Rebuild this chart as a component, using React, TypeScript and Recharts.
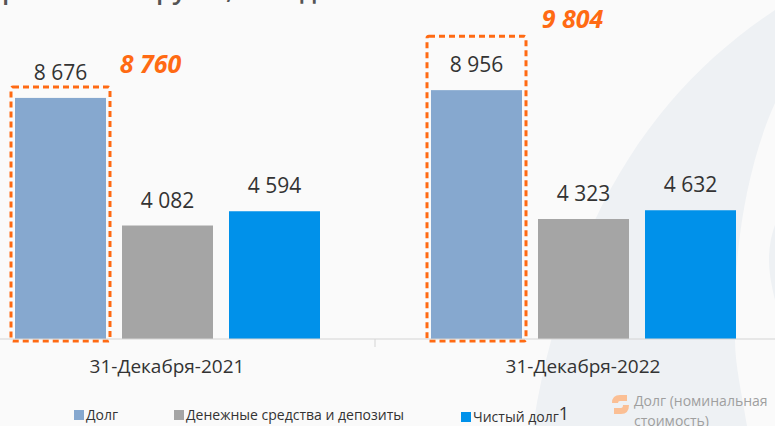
import { BarChart, Bar, XAxis, YAxis, LabelList, Legend } from 'recharts';

const categories = ['31-Декабря-2021', '31-Декабря-2022'];
const debt = [8676, 8956];
const cash = [4082, 4323];
const netDebt = [4594, 4632];
const nominalDebt = [8760, 9804];

const chartData = categories.map((date, i) => ({
  date,
  debt: debt[i],
  cash: cash[i],
  netDebt: netDebt[i],
}));

const FONT = '"Open Sans", sans-serif';
const ORANGE = '#ff6a13';

// how far the dashed box and the nominal value sit from each debt bar
const boxRise = [11, 54];
const nominalShift = [
  { dx: 90, dy: -35 },
  { dx: 96, dy: -72 },
];

// x of each legend entry, in page pixels
const legendX = [74, 174, 461];

const fmt = (v: number) => String(v).replace(/\B(?=(\d{3})+$)/g, ' ');

function DebtBar(props: any) {
  const { x, y, width, height, fill, index } = props;
  const rise = boxRise[index];
  const shift = nominalShift[index];
  return (
    <g>
      <rect x={x} y={y} width={width} height={height} fill={fill} />
      <rect
        x={x - 4}
        y={y - rise}
        width={width + 8}
        height={height + rise + 2}
        rx={2}
        fill="none"
        stroke={ORANGE}
        strokeWidth={3}
        strokeDasharray="6 4"
      />
      <text
        x={x + width / 2 + shift.dx}
        y={y + shift.dy}
        textAnchor="middle"
        dominantBaseline="central"
        fontFamily={FONT}
        fontSize={25}
        fontWeight={700}
        fontStyle="italic"
        fill={ORANGE}
      >
        {fmt(nominalDebt[index])}
      </text>
    </g>
  );
}

function DateTick({ x, y, payload, index }: any) {
  return (
    <g>
      {index === 0 && <line x1={x + 208} x2={x + 208} y1={y - 8} y2={y} stroke="#d4d4d4" />}
      <text x={x} y={y + 26} textAnchor="middle" fontFamily={FONT} fontSize={19} fill="#333">
        {payload.value}
      </text>
    </g>
  );
}

function LegendRow({ payload }: any) {
  return (
    <div style={{ position: 'absolute', left: 0, top: 0, height: 0, fontFamily: FONT, fontSize: 14, color: '#333' }}>
      {(payload || []).map((item: any, i: number) => (
        <div
          key={item.value}
          style={{ position: 'absolute', left: legendX[i], top: 0, whiteSpace: 'nowrap', lineHeight: '20px' }}
        >
          <span
            style={{ display: 'inline-block', width: 10, height: 10, background: item.color, marginRight: 2 }}
          />
          {item.value}
          {i === 2 && <span style={{ fontSize: 18, position: 'relative', top: -2 }}>1</span>}
        </div>
      ))}
    </div>
  );
}

export default function App() {
  return (
    <div
      style={{
        position: 'fixed',
        left: 0,
        top: 0,
        width: 775,
        height: 426,
        overflow: 'hidden',
        background: '#fafafa',
      }}
    >
      <svg width={775} height={426} style={{ position: 'absolute', left: 0, top: 0 }}>
        <path
          d="M775 10 C 700 60, 640 125, 595 220 C 565 285, 545 350, 533 426 L 747 426 C 742 395, 735 365, 735 340 C 732 260, 745 170, 775 103 Z"
          fill="#eef1f4"
        />
        <path d="M775 225 C 768 245, 766 265, 775 300 Z" fill="#eef1f4" />
        <text y={-1} fontFamily={FONT} fontSize={26} fontWeight={600} fill="#555">
          <tspan x={2}>р</tspan>
          <tspan x={156}>ру</tspan>
          <tspan x={226}>,</tspan>
          <tspan x={300}>д</tspan>
        </text>
      </svg>
      <div style={{ position: 'absolute', left: -41, top: 0 }}>
        <BarChart
          width={832}
          height={426}
          data={chartData}
          margin={{ top: 0, right: 0, bottom: 0, left: 0 }}
          barSize={91}
          barGap={16}
        >
          <XAxis
            dataKey="date"
            height={87}
            interval={0}
            tickLine={false}
            axisLine={{ stroke: '#d4d4d4' }}
            tick={<DateTick />}
          />
          <YAxis hide domain={[0, 12200]} />
          <Legend
            verticalAlign="top"
            itemSorter={null}
            content={<LegendRow />}
            wrapperStyle={{ left: 41, top: 405, width: 0, height: 0 }}
          />
          <Bar dataKey="debt" name="Долг" fill="#86a8cf" shape={<DebtBar />} isAnimationActive={false}>
            <LabelList dataKey="debt" position="top" offset={18} formatter={fmt} fontFamily={FONT} fontSize={21} fill="#333" />
          </Bar>
          <Bar dataKey="cash" name="Денежные средства и депозиты" fill="#a5a5a5" isAnimationActive={false}>
            <LabelList dataKey="cash" position="top" offset={18} formatter={fmt} fontFamily={FONT} fontSize={21} fill="#333" />
          </Bar>
          <Bar dataKey="netDebt" name="Чистый долг" fill="#0091ea" isAnimationActive={false}>
            <LabelList dataKey="netDebt" position="top" offset={18} formatter={fmt} fontFamily={FONT} fontSize={21} fill="#333" />
          </Bar>
        </BarChart>
      </div>
      <svg width={20} height={22} style={{ position: 'absolute', left: 611, top: 394 }}>
        <path d="M1 9 Q1 1 9 1 L16 1 L16 7 L9 7 Q7 7 7 9 Z" fill="#fbbf94" />
        <path d="M18 11 Q18 20 10 20 L3 20 L3 14 L10 14 Q12 14 12 11 Z" fill="#fbbf94" />
      </svg>
      <div
        style={{
          position: 'absolute',
          left: 634,
          top: 391,
          width: 141,
          fontFamily: FONT,
          fontSize: 14,
          lineHeight: '20px',
          color: '#9f9f9f',
        }}
      >
        Долг (номинальная стоимость)
      </div>
    </div>
  );
}
